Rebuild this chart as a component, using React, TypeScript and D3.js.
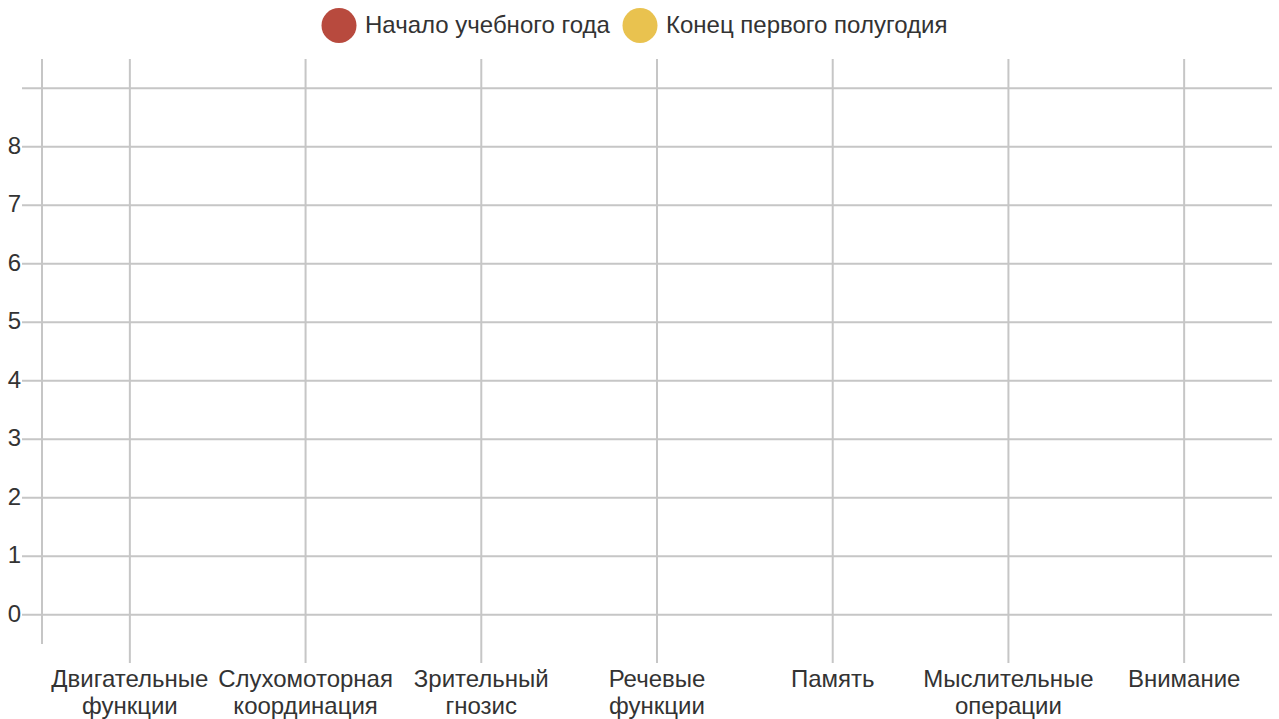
import React from "react";
import * as d3 from "d3";

const categories: string[][] = [
  ["Двигательные", "функции"],
  ["Слухомоторная", "координация"],
  ["Зрительный", "гнозис"],
  ["Речевые", "функции"],
  ["Память"],
  ["Мыслительные", "операции"],
  ["Внимание"],
];
const categoryKeys = categories.map((c) => c.join(" "));

const seriesNames = ["Начало учебного года", "Конец первого полугодия"];
const seriesColors = ["#b84a3e", "#e9c24f"];
// No values are plotted in the reference chart
const startOfYear: (number | null)[] = [null, null, null, null, null, null, null];
const endOfFirstHalf: (number | null)[] = [null, null, null, null, null, null, null];
const seriesValues = [startOfYear, endOfFirstHalf];

const yTicks = [0, 1, 2, 3, 4, 5, 6, 7, 8, 9];
const yTickLabels = ["0", "1", "2", "3", "4", "5", "6", "7", "8", ""];

const W = 1279;
const H = 719;
const FONT = "'Liberation Sans', Arial, sans-serif";
const GRID = "#c6c6c6";
const TEXT = "#333333";

export default function App() {
  const x = d3.scalePoint<string>().domain(categoryKeys).range([42, 1272]).padding(0.5);
  const y = d3.scaleLinear().domain([-0.5, 9.5]).range([644, 59]);
  const top = y(9.5);
  const bottom = y(-0.5);

  const line = d3
    .line<number | null>()
    .defined((d) => d !== null)
    .x((_, i) => x(categoryKeys[i]) as number)
    .y((d) => y(d as number));

  const legendX = [339, 640];

  return (
    <svg width={W} height={H} style={{ position: "absolute", left: 0, top: 0, background: "#fff" }}>
      <rect width={W} height={H} fill="#fff" />
      {/* horizontal grid */}
      {yTicks.map((t) => (
        <line key={"h" + t} x1={22} x2={1272} y1={y(t)} y2={y(t)} stroke={GRID} strokeWidth={2} />
      ))}
      {/* y axis line */}
      <line x1={42} x2={42} y1={top} y2={bottom} stroke={GRID} strokeWidth={2} />
      {/* category verticals */}
      {categoryKeys.map((k) => (
        <line key={"v" + k} x1={x(k)} x2={x(k)} y1={top} y2={bottom + 19} stroke={GRID} strokeWidth={2} />
      ))}
      {/* y tick labels */}
      {yTicks.map((t, i) => (
        <text key={"yt" + t} x={21} y={y(t) + 7} textAnchor="end" fontFamily={FONT} fontSize={24} fill={TEXT}>
          {yTickLabels[i]}
        </text>
      ))}
      {/* category labels */}
      {categories.map((c, i) => (
        <text key={"c" + i} textAnchor="middle" fontFamily={FONT} fontSize={24} fill={TEXT}>
          {c.map((ln, j) => (
            <tspan key={j} x={x(categoryKeys[i])} y={687 + j * 27}>
              {ln}
            </tspan>
          ))}
        </text>
      ))}
      {/* series (no data points in reference) */}
      {seriesValues.map((vals, si) => (
        <g key={"s" + si}>
          <path d={line(vals) || ""} fill="none" stroke={seriesColors[si]} strokeWidth={3} />
          {vals.map((v, i) =>
            v === null ? null : (
              <circle key={i} cx={x(categoryKeys[i])} cy={y(v)} r={6} fill={seriesColors[si]} />
            )
          )}
        </g>
      ))}
      {/* legend */}
      {seriesNames.map((n, i) => (
        <g key={"l" + i}>
          <circle cx={legendX[i]} cy={25.5} r={17.5} fill={seriesColors[i]} />
          <text x={legendX[i] + 26} y={33} fontFamily={FONT} fontSize={24} fill={TEXT}>
            {n}
          </text>
        </g>
      ))}
    </svg>
  );
}
